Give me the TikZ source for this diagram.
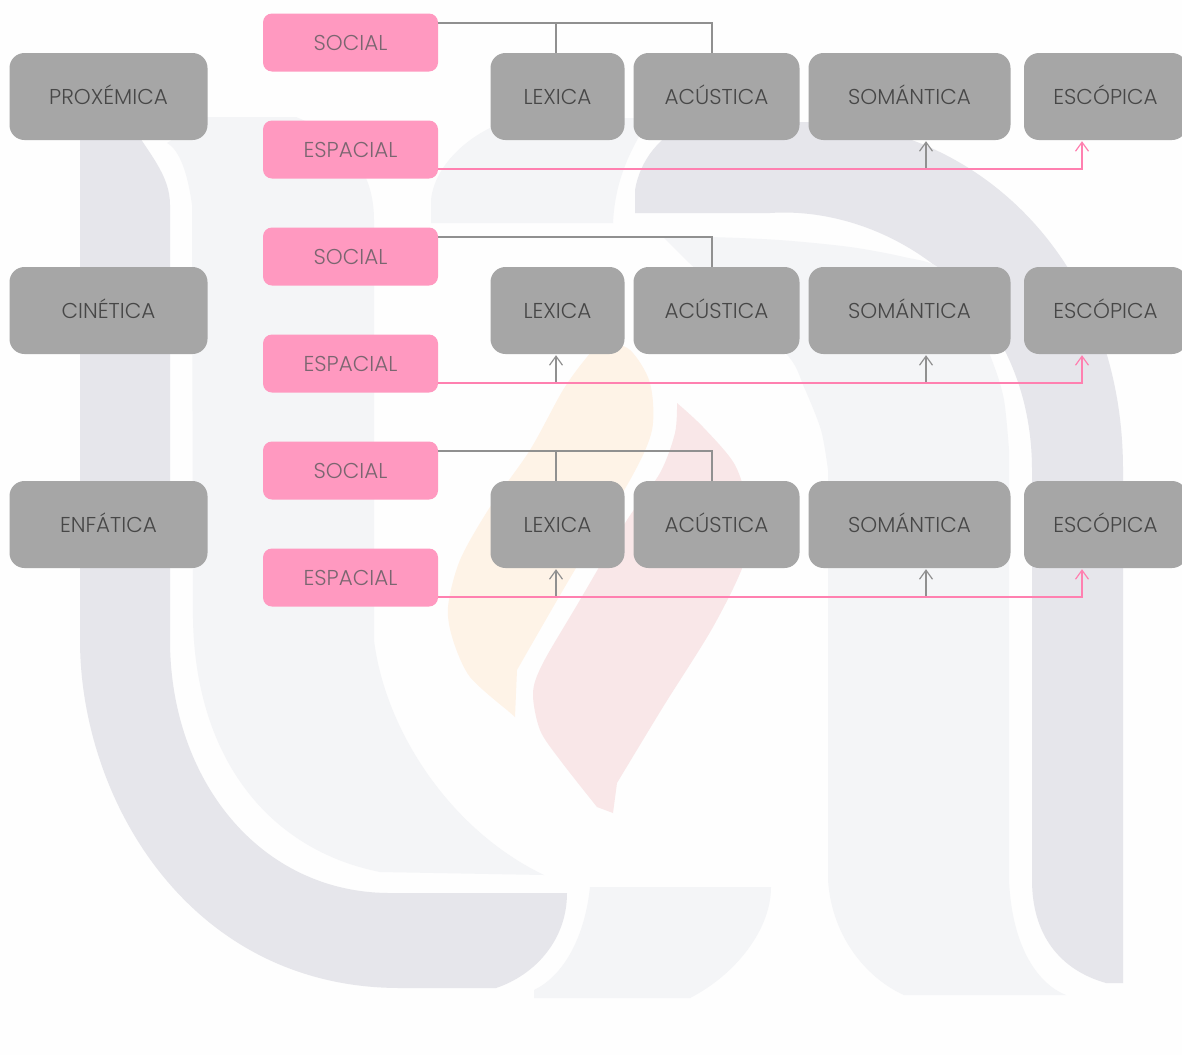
\documentclass[tikz,border=0pt]{standalone}
\usepackage{fontspec}
\setmainfont{Poppins}[UprightFont=* Light]
\usetikzlibrary{arrows.meta,calc}
\definecolor{wmdark}{HTML}{E6E6EB}
\definecolor{wmlight}{HTML}{F4F5F7}
\definecolor{wmorange}{HTML}{FEF3E7}
\definecolor{wmred}{HTML}{F9E7E8}
\definecolor{boxgray}{HTML}{A6A6A6}
\definecolor{boxpink}{HTML}{FF99C0}
\definecolor{textgray}{HTML}{474747}
\definecolor{textpink}{HTML}{7A6670}
\definecolor{linegray}{HTML}{909090}
\definecolor{linepink}{HTML}{FF80B0}
\tikzset{
  base/.style={rounded corners=15pt,inner sep=0pt,text height=15.5pt,text depth=0pt,font=\fontsize{21.5pt}{24pt}\selectfont},
  graybox/.style={base,fill=boxgray,text=textgray,minimum height=87pt},
  pinkbox/.style={base,fill=boxpink,text=textpink,minimum width=175pt,minimum height=58pt,rounded corners=9pt},
  grayline/.style={draw=linegray,line width=1.3pt},
  pinkline/.style={draw=linepink,line width=1.3pt},
  barb/.style={-{Straight Barb[length=9pt,width=13pt,line width=1.2pt]},shorten >=1pt}
}
\begin{document}
\begin{tikzpicture}[x=1pt,y=-1pt]
\useasboundingbox (0,0) rectangle (1182,1055);
\clip (0,0) rectangle (1182,1055);
\fill[white!99.5!black] (0,0) rectangle (1182,1055);
% watermark
\fill[wmdark] (80,115) -- (80,640) .. controls (80,800) and (190,988) .. (400,988) -- (496,988) .. controls (535,975) and (567,940) .. (567,893) -- (390,893) .. controls (260,893) and (170,780) .. (170,640) -- (170,205) .. controls (170,175) and (150,155) .. (125,115) -- cycle;
\fill[wmlight] (208,117) -- (296,117) .. controls (340,135) and (374,165) .. (374,220) -- (374,640) .. controls (385,730) and (450,830) .. (544,875) -- (380,872) .. controls (270,850) and (196,760) .. (193,620) -- (192,205) .. controls (188,175) and (180,150) .. (167,143) -- cycle;
\fill[wmlight] (431,223) -- (431,200) .. controls (435,160) and (480,125) .. (520,118) -- (650,118) .. controls (630,150) and (615,180) .. (613,223) -- cycle;
\fill[wmdark] (635,213) -- (635,190) .. controls (640,160) and (660,135) .. (690,122) -- (830,122) .. controls (990,135) and (1123,270) .. (1123,470) -- (1123,983) -- (1106,983) .. controls (1060,970) and (1032,935) .. (1032,880) -- (1032,470) .. controls (1032,300) and (890,205) .. (770,213) -- cycle;
\fill[wmlight] plot[smooth] coordinates {(664,238) (707,237) (779,240) (850,247) (904,257) (939,268) (970,310) (993,363) (1004,400) (1009,450)} -- (1009,880) .. controls (1012,950) and (1040,985) .. (1066,995) -- (904,995) .. controls (870,980) and (832,940) .. (828,880) -- (828,470) -- plot[smooth] coordinates {(828,470) (821,430) (804,387) (789,357) (740,310) (686,260)} -- cycle;
\fill[wmlight] (590,887) -- (771,887) .. controls (771,930) and (735,975) .. (690,998) -- (534,998) -- (534,990) .. controls (565,975) and (585,935) .. (590,887) -- cycle;
\fill[wmorange] plot[smooth] coordinates {(517,670) (573,573) (630,480) (652,430) (650,383) (630,350) (603,342) (587,357) (563,390) (530,450) (490,507) (460,560) (448,607) (453,640) (470,677) (507,710)} -- (515,717) -- cycle;
\fill[wmred] plot[smooth] coordinates {(617,783) (663,707) (713,627) (745,560) (748,510) (735,465) (703,427) (677,403)} -- plot[smooth] coordinates {(677,403) (675,433) (660,473) (627,520) (580,600) (543,663) (533,693) (540,730) (560,760) (597,807)} -- (613,813) -- cycle;
% nodes
\foreach \i/\d/\t in {1/0/PROXÉMICA,2/214/CINÉTICA,3/428/ENFÁTICA}{
  \node[graybox,minimum width=198pt] (k\i) at (108.5,{96.5+\d}) {\t};
  \node[pinkbox] (s\i) at (350.5,{42.5+\d}) {SOCIAL};
  \node[pinkbox] (e\i) at (350.5,{149.5+\d}) {ESPACIAL};
  \node[graybox,minimum width=134pt] (lx\i) at (557.5,{96.5+\d}) {LEXICA};
  \node[graybox,minimum width=166pt] (ac\i) at (716.5,{96.5+\d}) {ACÚSTICA};
  \node[graybox,minimum width=202pt] (so\i) at (909.5,{96.5+\d}) {SOMÁNTICA};
  \node[graybox,minimum width=163pt] (es\i) at (1105.5,{96.5+\d}) {ESCÓPICA};
}
% connectors
\draw[grayline] ([yshift=19.5pt]s1.east) -| ([xshift=-1.5pt]lx1.north);
\draw[grayline] ([yshift=19.5pt]s1.east) -| ([xshift=-4.5pt]ac1.north);
\draw[grayline] ([yshift=19.5pt]s2.east) -| ([xshift=-4.5pt]ac2.north);
\draw[grayline] ([yshift=19.5pt]s3.east) -| ([xshift=-1.5pt]lx3.north);
\draw[grayline] ([yshift=19.5pt]s3.east) -| ([xshift=-4.5pt]ac3.north);
\draw[grayline,barb] ([xshift=16.5pt,yshift=-29.5pt]so1.south) -- ([xshift=16.5pt]so1.south);
\draw[grayline,barb] ([xshift=-1.5pt,yshift=-29.5pt]lx2.south) -- ([xshift=-1.5pt]lx2.south);
\draw[grayline,barb] ([xshift=16.5pt,yshift=-29.5pt]so2.south) -- ([xshift=16.5pt]so2.south);
\draw[grayline,barb] ([xshift=-1.5pt,yshift=-29.5pt]lx3.south) -- ([xshift=-1.5pt]lx3.south);
\draw[grayline,barb] ([xshift=16.5pt,yshift=-29.5pt]so3.south) -- ([xshift=16.5pt]so3.south);
\foreach \i in {1,2,3}{
  \draw[pinkline,barb] ([yshift=-19.5pt]e\i.east) -| ([xshift=-23.5pt]es\i.south);
}
\end{tikzpicture}
\end{document}
